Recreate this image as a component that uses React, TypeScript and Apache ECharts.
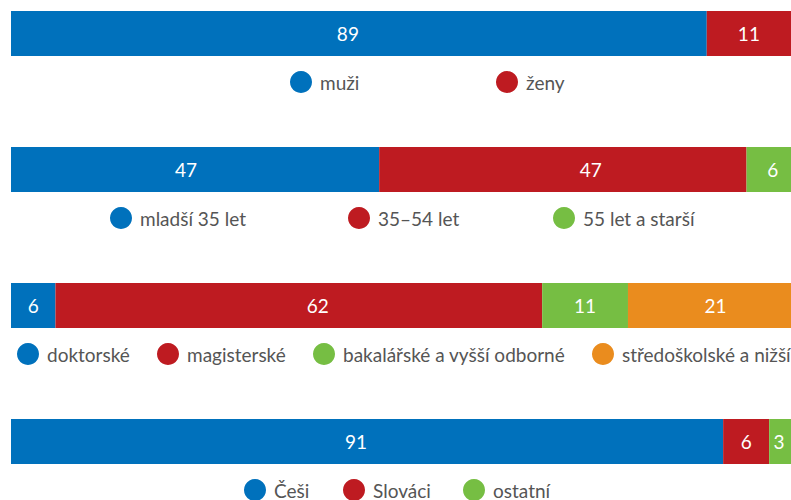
import React, { useEffect, useRef } from "react";
import * as echarts from "echarts";

const groupNames: string[][] = [
  ["muži", "ženy"],
  ["mladší 35 let", "35–54 let", "55 let a starší"],
  ["doktorské", "magisterské", "bakalářské a vyšší odborné", "středoškolské a nižší"],
  ["Češi", "Slováci", "ostatní"],
];
const groupValues: number[][] = [
  [89.2, 10.8],
  [47.2, 47.1, 5.7],
  [5.7, 62.4, 11.0, 20.9],
  [91.3, 5.9, 2.8],
];
const groupColors: string[][] = [
  ["#0071bc", "#be1b21"],
  ["#0071bc", "#be1b21", "#76be43"],
  ["#0071bc", "#be1b21", "#76be43", "#ea8c1e"],
  ["#0071bc", "#be1b21", "#76be43"],
];
const legendLefts: number[][] = [
  [290, 496],
  [110, 348, 553],
  [17, 157, 313, 592],
  [244, 343, 463],
];
const labelShifts: number[][] = [
  [-11, 0],
  [-9, 28, 4],
  [0, 19, 0, 6],
  [-11, 0, -1],
];

const FONT = "Lato";
const gridTops = [11, 147, 283, 419];
const barHeight = 45;

export default function App() {
  const ref = useRef<HTMLDivElement>(null);
  useEffect(() => {
    if (!ref.current) return;
    const chart = echarts.init(ref.current, null, { renderer: "svg" });
    const grid: any[] = [];
    const xAxis: any[] = [];
    const yAxis: any[] = [];
    const series: any[] = [];
    const legend: any[] = [];
    groupNames.forEach((names, g) => {
      grid.push({ left: 11, right: 0, top: gridTops[g], height: barHeight });
      xAxis.push({ gridIndex: g, type: "value", min: 0, max: 100, show: false });
      yAxis.push({ gridIndex: g, type: "category", data: ["x"], show: false });
      names.forEach((n, i) => {
        series.push({
          type: "bar",
          name: n,
          xAxisIndex: g,
          yAxisIndex: g,
          stack: "s" + g,
          barWidth: barHeight,
          data: [groupValues[g][i]],
          itemStyle: { color: groupColors[g][i] },
          label: {
            show: true,
            position: "inside",
            offset: [labelShifts[g][i], 0],
            color: "#ffffff",
            fontFamily: FONT,
            fontSize: 19,
            formatter: (p: any) => String(Math.round(p.value)),
          },
        });
        legend.push({
          data: [n],
          left: legendLefts[g][i],
          top: gridTops[g] + barHeight + 15,
          padding: 0,
          icon: "circle",
          itemWidth: 22,
          itemHeight: 22,
          selectedMode: false,
          textStyle: {
            color: "#555555",
            fontFamily: FONT,
            fontSize: 19,
            padding: [0, 0, 0, 3],
          },
        });
      });
    });
    chart.setOption({
      animation: false,
      grid,
      xAxis,
      yAxis,
      series,
      legend,
    });
    return () => chart.dispose();
  }, []);
  return <div ref={ref} style={{ width: 791, height: 500, position: "absolute", left: 0, top: 0 }} />;
}
